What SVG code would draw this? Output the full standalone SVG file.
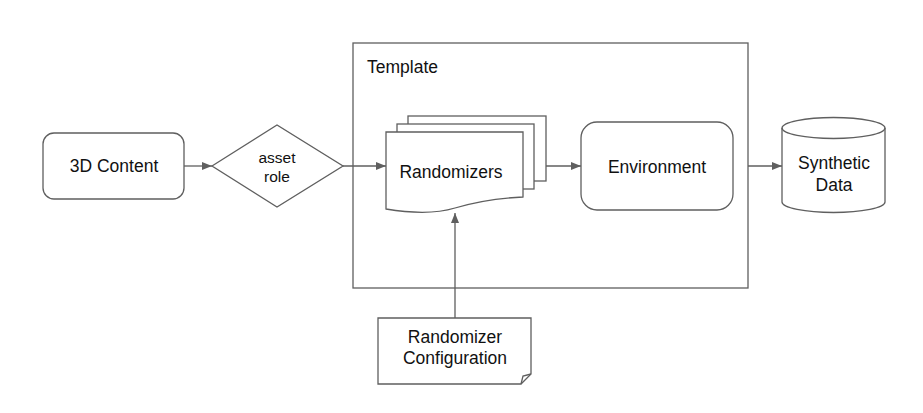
<svg xmlns="http://www.w3.org/2000/svg" width="923" height="413" viewBox="0 0 923 413">
<defs>
<style>
.s{fill:#fff;stroke:#5f5f5f;stroke-width:1.3}
.c{fill:none;stroke:#5f5f5f;stroke-width:1.3}
text{font-family:"Liberation Sans",Arial,sans-serif;fill:#111;text-anchor:middle}
.t16{font-size:17.5px}
.t14{font-size:15.5px}
</style>
<marker id="ah" viewBox="0 0 10 10" refX="10" refY="5" markerWidth="10" markerHeight="10" markerUnits="userSpaceOnUse" orient="auto">
<path d="M0,1 L10,5 L0,9 Z" fill="#5f5f5f"/>
</marker>
</defs>
<rect width="923" height="413" fill="#fff"/>
<g id="template">
<rect class="s" x="353" y="43" width="395" height="245"/>
<text x="367" y="73" class="t16" style="text-anchor:start">Template</text>
</g>
<g id="content3d">
<rect class="s" x="43" y="133" width="141" height="66" rx="11"/>
<text x="114" y="172" class="t16">3D Content</text>
</g>
<g id="assetrole">
<polygon class="s" points="212,166 277,125 343,166 277,207"/>
<text x="277" y="163" class="t14">asset</text>
<text x="277" y="182" class="t14">role</text>
</g>
<g id="randomizers">
<rect class="s" x="408" y="116" width="138" height="65"/>
<rect class="s" x="397" y="124" width="137" height="65"/>
<path class="s" d="M386,132 H523 V197 C500,198 475,202 455,208 C435,214 410,213 386,209 Z"/>
<text x="451" y="178" class="t16">Randomizers</text>
</g>
<g id="environment">
<rect class="s" x="581" y="122" width="152" height="88" rx="16"/>
<text x="657" y="173" class="t16">Environment</text>
</g>
<g id="synthetic">
<path class="s" d="M782,128 A51.5,10.5 0 0 1 885,128 V202 A51.5,10.5 0 0 1 782,202 Z"/>
<path class="c" d="M782,128 A51.5,10.5 0 0 0 885,128"/>
<text x="834" y="169" class="t16">Synthetic</text>
<text x="834" y="191" class="t16">Data</text>
</g>
<g id="config">
<path class="s" d="M378,318 H531 V374 L521,384 H378 Z"/>
<path class="c" d="M521,384 L523,376 L531,374"/>
<text x="455" y="343" class="t16">Randomizer</text>
<text x="455" y="364" class="t16">Configuration</text>
</g>
<g id="connectors">
<line class="c" x1="184" y1="166" x2="212" y2="166" marker-end="url(#ah)"/>
<line class="c" x1="343" y1="166" x2="386" y2="166" marker-end="url(#ah)"/>
<line class="c" x1="546" y1="166" x2="581" y2="166" marker-end="url(#ah)"/>
<line class="c" x1="748" y1="166" x2="782" y2="166" marker-end="url(#ah)"/>
<line class="c" x1="455" y1="318" x2="455" y2="213" marker-end="url(#ah)"/>
</g>
</svg>
